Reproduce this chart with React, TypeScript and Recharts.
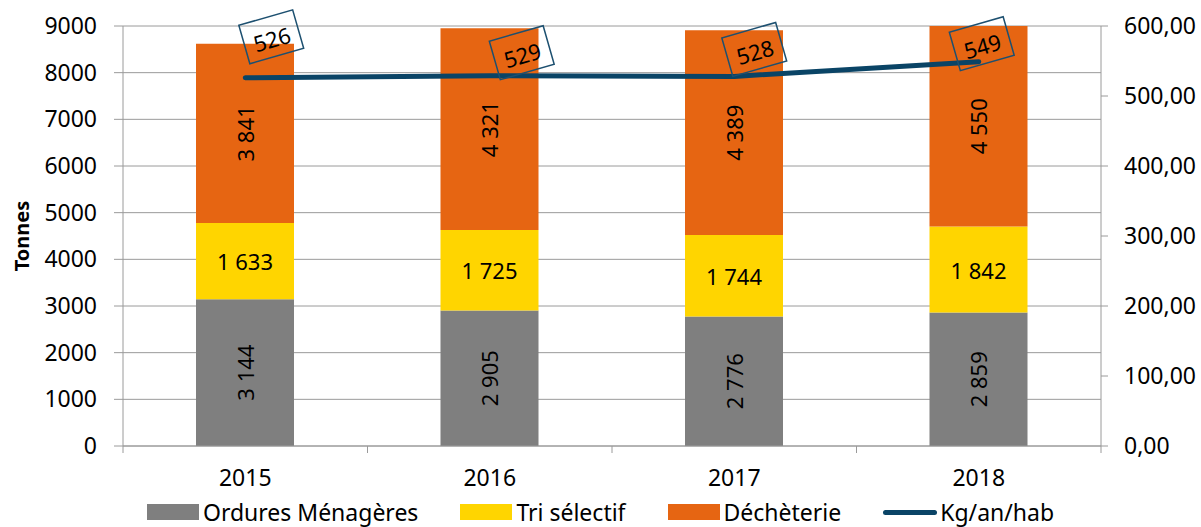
import React from "react";
import {
    ComposedChart, Bar, Line, XAxis, YAxis, CartesianGrid, LabelList, Legend
} from "recharts";

// Valeurs
const YEARS = ["2015", "2016", "2017", "2018"];
const ORDURES = [3144, 2905, 2776, 2859];
const TRI = [1633, 1725, 1744, 1842];
const DECHETERIE = [3841, 4321, 4389, 4550];
const KG_HAB = [526, 529, 528, 549];

const LEFT_TICKS = [0, 1000, 2000, 3000, 4000, 5000, 6000, 7000, 8000, 9000];
const RIGHT_TICKS = [0, 100, 200, 300, 400, 500, 600];

// petits décalages des étiquettes encadrées (style)
const LABEL_NUDGE = [[26, -41], [32, -23], [20, -27], [3, -18]];

const FONT = "'Noto Sans', sans-serif";
const GREY = "#7f7f7f";
const YELLOW = "#ffd500";
const ORANGE = "#e66512";
const NAVY = "#0a4466";
const AXIS = "#9a9a9a";
const X_GAP = 24;

const data = YEARS.map((year, i) => ({
    year,
    ordures: ORDURES[i],
    tri: TRI[i],
    decheterie: DECHETERIE[i],
    kg: KG_HAB[i],
}));

const fmtSpace = (v: number) => String(v).replace(/\B(?=(\d{3})+(?!\d))/g, " ");
const fmtRight = (v: number) => v.toFixed(2).replace(".", ",");

const rotatedLabel = (props: any) => {
    const { x, y, width, height, value } = props;
    const cx = Number(x) + Number(width) / 2;
    const cy = Number(y) + Number(height) / 2;
    return (
        <text x={cx} y={cy} transform={`rotate(-90 ${cx} ${cy})`} textAnchor="middle"
            dominantBaseline="central" fontSize={22} fontFamily={FONT} fill="#000">
            {fmtSpace(Number(value))}
        </text>
    );
};

const flatLabel = (props: any) => {
    const { x, y, width, height, value } = props;
    const cx = Number(x) + Number(width) / 2;
    const cy = Number(y) + Number(height) / 2;
    return (
        <text x={cx} y={cy} textAnchor="middle" dominantBaseline="central"
            fontSize={22} fontFamily={FONT} fill="#000">
            {fmtSpace(Number(value))}
        </text>
    );
};

const boxLabel = (props: any) => {
    const { x, y, value, index } = props;
    const [dx, dy] = LABEL_NUDGE[index] || [0, -30];
    const cx = Number(x) + dx;
    const cy = Number(y) + dy;
    return (
        <g transform={`translate(${cx},${cy}) rotate(-16)`}>
            <rect x={-28} y={-20} width={56} height={40} fill="none" stroke="#1d5070" strokeWidth={1.5} />
            <text x={0} y={2} textAnchor="middle" dominantBaseline="central"
                fontSize={22} fontFamily={FONT} fill="#000">{value}</text>
        </g>
    );
};

// étiquette d'année + graduations aux limites des catégories (façon Excel)
const yearTick = (props: any) => {
    const { x, y, payload, index, visibleTicksCount } = props;
    const half = Number(payload?.offset) || 0;
    const axisY = Number(y) - X_GAP;
    const last = index === (visibleTicksCount ?? YEARS.length) - 1;
    return (
        <g>
            <line x1={x - half} x2={x - half} y1={axisY} y2={axisY + 7} stroke={AXIS} />
            {last && <line x1={x + half} x2={x + half} y1={axisY} y2={axisY + 7} stroke={AXIS} />}
            <text x={x} y={y} dy="0.71em" textAnchor="middle" fontSize={23} fontFamily={FONT} fill="#000">
                {payload.value}
            </text>
        </g>
    );
};

const legendItems = [
    { name: "Ordures Ménagères", color: GREY, line: false },
    { name: "Tri sélectif", color: YELLOW, line: false },
    { name: "Déchèterie", color: ORANGE, line: false },
    { name: "Kg/an/hab", color: NAVY, line: true },
];

const renderLegend = () => (
    <div style={{ display: "flex", justifyContent: "center", gap: 42, fontFamily: FONT, fontSize: 23, lineHeight: "26px" }}>
        {legendItems.map(it => (
            <div key={it.name} style={{ display: "flex", alignItems: "center" }}>
                {it.line
                    ? <span style={{ display: "inline-block", width: 54, height: 5, borderRadius: 3, background: it.color, marginRight: 3 }} />
                    : <span style={{ display: "inline-block", width: 52, height: 16, background: it.color, marginRight: 4 }} />}
                <span>{it.name}</span>
            </div>
        ))}
    </div>
);

export default function App() {
    return (
        <div style={{ position: "absolute", left: 0, top: 0, width: 1201, height: 527, background: "#fff" }}>
            <ComposedChart width={1201} height={527} data={data}
                margin={{ top: 26, right: 0, bottom: 80, left: 0 }}>
                <CartesianGrid vertical={false} stroke={AXIS} yAxisId="left" />
                <XAxis dataKey="year" height={1} axisLine={{ stroke: AXIS }} tickLine={false} tickSize={0}
                    tickMargin={X_GAP} tick={yearTick} interval={0} />
                <YAxis yAxisId="left" width={123} domain={[0, 9000]} allowDataOverflow ticks={LEFT_TICKS}
                    axisLine={{ stroke: AXIS }} tickLine={{ stroke: AXIS }} tickSize={9} tickMargin={17}
                    tick={{ fontSize: 23, fontFamily: FONT, fill: "#000" }}
                    label={{
                        content: ({ viewBox }: any) => {
                            const lx = viewBox.x + 21;
                            const ly = viewBox.y + viewBox.height / 2;
                            return (
                                <text x={lx} y={ly} transform={`rotate(-90 ${lx} ${ly})`} textAnchor="middle"
                                    dominantBaseline="central" fontSize={20} fontWeight="bold" fontFamily={FONT} fill="#000">
                                    Tonnes
                                </text>
                            );
                        }
                    }} />
                <YAxis yAxisId="right" orientation="right" width={100} domain={[0, 600]} ticks={RIGHT_TICKS}
                    tickFormatter={fmtRight} axisLine={{ stroke: AXIS }} tickLine={{ stroke: AXIS }}
                    tickSize={7} tickMargin={16} tick={{ fontSize: 23, fontFamily: FONT, fill: "#000" }} />
                <Legend verticalAlign="middle" layout="horizontal" content={renderLegend}
                    wrapperStyle={{ left: 0, top: 499, width: 1201 }} />
                <Bar yAxisId="left" dataKey="ordures" name="Ordures Ménagères" stackId="a" fill={GREY} barSize={98} isAnimationActive={false}>
                    <LabelList dataKey="ordures" content={rotatedLabel} />
                </Bar>
                <Bar yAxisId="left" dataKey="tri" name="Tri sélectif" stackId="a" fill={YELLOW} barSize={98} isAnimationActive={false}>
                    <LabelList dataKey="tri" content={flatLabel} />
                </Bar>
                <Bar yAxisId="left" dataKey="decheterie" name="Déchèterie" stackId="a" fill={ORANGE} barSize={98} isAnimationActive={false}>
                    <LabelList dataKey="decheterie" content={rotatedLabel} />
                </Bar>
                <Line yAxisId="right" dataKey="kg" name="Kg/an/hab" type="linear" stroke={NAVY} strokeWidth={5}
                    strokeLinecap="round" dot={false} activeDot={false} isAnimationActive={false}>
                    <LabelList dataKey="kg" content={boxLabel} />
                </Line>
            </ComposedChart>
        </div>
    );
}
